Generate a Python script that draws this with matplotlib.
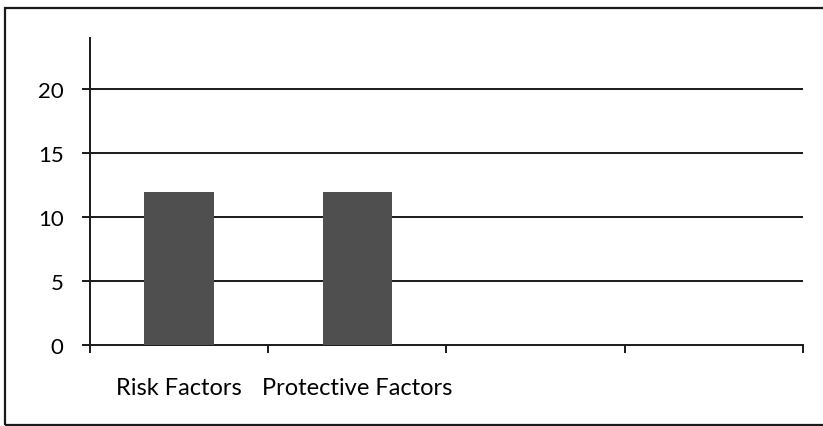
import numpy as np
import matplotlib.pyplot as plt
from matplotlib.patches import Rectangle

categories = ["Risk Factors", "Protective Factors", "", ""]
values = [12, 12, np.nan, np.nan]
yticks = [0, 5, 10, 15, 20]

plt.rcParams['font.family'] = ['Lato', 'DejaVu Sans']

fig = plt.figure(figsize=(8.23, 4.27), dpi=100)
ax = fig.add_axes([90/823, 1-346/427, 713/823, 307/427])

x = np.arange(len(categories))
ax.bar(x, values, width=0.39, color='#4f4f4f', zorder=3)

ax.set_xlim(-0.5, len(categories) - 0.5)
ax.set_ylim(0, 24)
ax.set_yticks(yticks)
for t in yticks[1:]:
    ax.axhline(t, color='#1a1a1a', lw=1.4, zorder=2)

# category labels, boundary tick marks
ax.set_xticks(x)
ax.set_xticklabels(categories, fontsize=17)
ax.tick_params(axis='x', length=0, pad=23)
ax.set_xticks(np.arange(-0.5, len(categories)), minor=True)
ax.tick_params(axis='x', which='minor', length=6, width=1.4, direction='out', color='#1a1a1a')
ax.tick_params(axis='y', length=6, width=1.4, labelsize=16, pad=13, color='#1a1a1a')

for s in ['top', 'right']:
    ax.spines[s].set_visible(False)
ax.spines['left'].set_linewidth(1.4)
ax.spines['bottom'].set_linewidth(1.4)
ax.spines['left'].set_color('#1a1a1a')
ax.spines['bottom'].set_color('#1a1a1a')

# outer chart frame
fig.patches.append(Rectangle((5/823, 1/427), 830/823, 417/427, transform=fig.transFigure,
                             fill=False, lw=1.6, edgecolor='#1a1a1a'))

fig.savefig('out.png', dpi=100)
